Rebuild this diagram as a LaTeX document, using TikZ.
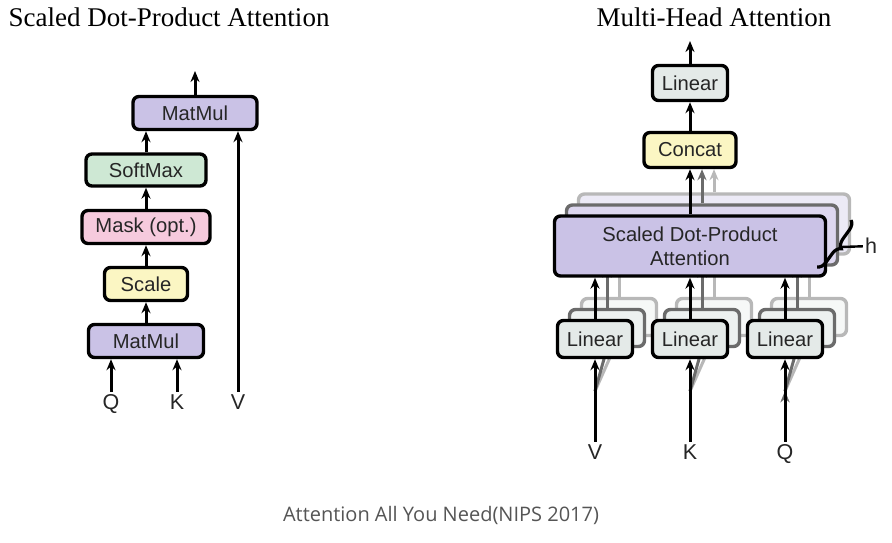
\documentclass[tikz,border=0pt]{standalone}
\usepackage{fontspec}
\setmainfont{Liberation Serif}
\newfontfamily\boxfont{Liberation Sans}
\newfontfamily\capfont{Open Sans}
\usepackage{tikz}
\usetikzlibrary{arrows.meta,positioning,decorations.pathreplacing,backgrounds}

\definecolor{mmpurple}{RGB}{202,194,230}
\definecolor{smgreen}{RGB}{206,232,212}
\definecolor{mkpink}{RGB}{246,202,221}
\definecolor{scyellow}{RGB}{251,246,195}
\definecolor{lngray}{RGB}{228,234,232}
\definecolor{capgray}{RGB}{85,85,85}

\begin{document}
\begin{tikzpicture}[
	x = 1pt, y = -1pt,
	node distance = 57pt,
	on grid,
	> = {Stealth[length=11pt,width=9pt]},
	box/.style = {draw, line width=3.4pt, rounded corners=6pt, minimum height=33pt,
		inner sep=0pt, text=black!85, font=\boxfont\fontsize{20.2}{24}\selectfont},
	mmbox/.style = {box, fill=mmpurple},
	linbox/.style = {box, fill=lngray, minimum width=75pt, minimum height=37pt},
	sdpabox/.style = {box, fill=mmpurple, minimum width=271pt, minimum height=60pt, align=center},
	ghostA/.style = {draw=black!58, fill=#1!65!white},
	ghostB/.style = {draw=black!28, fill=#1!35!white},
	lbl/.style = {inner sep=2pt, text height=15pt, text depth=1pt, text=black!85,
		font=\boxfont\fontsize{21.5}{24}\selectfont},
	title/.style = {font=\fontsize{27}{30}\selectfont},
	wire/.style = {line width=3pt},
	wireA/.style = {line width=3pt, draw=black!58, -{Stealth[length=11pt,width=9pt]}},
	wireB/.style = {line width=3pt, draw=black!28, -{Stealth[length=11pt,width=9pt]}}
	]
	\useasboundingbox (0,0) rectangle (892,542);

	% scaled dot-product attention
	\node[title] (ttl1) at (169,17) {Scaled Dot-Product Attention};
	\node[mmbox, minimum width=115pt] (mm1) at (146,341) {MatMul};
	\node[box, fill=scyellow, minimum width=83pt] (scale) [above=57pt of mm1] {Scale};
	\node[box, fill=mkpink, minimum width=128pt] (mask) [above=of scale] {Mask (opt.)};
	\node[box, fill=smgreen, minimum width=120pt, minimum height=32pt] (soft) [above=of mask] {SoftMax};
	\node[mmbox, minimum width=124pt] (mm2) [above right=57pt and 49pt of soft] {MatMul};
	\node[lbl] (q) at (111,402) {Q};
	\node[lbl] (k) at (177,402) {K};
	\node[lbl] (v0) at (238,402) {V};
	\coordinate (out1) at (195,71);
	\path[->, wire]
	(mm1) edge (scale)
	(scale) edge (mask)
	(mask) edge (soft)
	(soft.north) edge (soft.north |- mm2.south)
	(mm2) edge (out1)
	(q) edge (q |- mm1.south)
	(k) edge (k |- mm1.south)
	(v0) edge (v0 |- mm2.south);

	% multi-head attention
	\node[title] (ttl2) at (714,17) {Multi-Head Attention};
	\node[sdpabox] (sdpa) at (690,246) {Scaled Dot-Product\\Attention};
	\node[box, fill=scyellow, minimum width=92pt, minimum height=35pt] (concat) [above=96pt of sdpa] {Concat};
	\node[linbox, minimum height=35pt] (lintop) [above=67pt of concat] {Linear};
	\node[linbox] (lk) [below=93pt of sdpa] {Linear};
	\node[linbox] (lv) [left=95pt of lk] {Linear};
	\node[linbox] (lq) [right=95pt of lk] {Linear};
	\node[lbl] (v) [below=113pt of lv] {V};
	\node[lbl] (k2) [below=113pt of lk] {K};
	\node[lbl] (q2) [below=113pt of lq] {Q};
	\coordinate (out2) at (690,41);
	\path[->, wire]
	(lintop) edge (out2)
	(concat) edge (lintop)
	(sdpa) edge (concat)
	(lv) edge (lv |- sdpa.south)
	(lk) edge (lk |- sdpa.south)
	(lq) edge (lq |- sdpa.south)
	(v) edge (lv)
	(k2) edge (lk)
	(q2) edge (lq);

	\begin{scope}[on background layer]
	\fill[white] (0,0) rectangle (892,542);
	\node[sdpabox, ghostB=mmpurple] (sdpa2) at ([xshift=24pt,yshift=22pt]sdpa) {};
	\node[linbox, ghostB=lngray] (lv2) at ([xshift=24pt,yshift=22pt]lv) {};
	\node[linbox, ghostB=lngray] (lk2) at ([xshift=24pt,yshift=22pt]lk) {};
	\node[linbox, ghostB=lngray] (lq2) at ([xshift=24pt,yshift=22pt]lq) {};
	\path[wireB]
	(sdpa2.north) edge (sdpa2.north |- concat.south)
	(lv2.north) edge (lv2.north |- sdpa2.south)
	(lk2.north) edge (lk2.north |- sdpa2.south)
	(lq2.north) edge (lq2.north |- sdpa2.south)
	([yshift=-32pt]lv.south) edge (lv2.south)
	([yshift=-32pt]lk.south) edge (lk2.south)
	([yshift=-32pt]lq.south) edge (lq2.south);
	\node[sdpabox, ghostA=mmpurple] (sdpa1) at ([xshift=12pt,yshift=11pt]sdpa) {};
	\node[linbox, ghostA=lngray] (lv1) at ([xshift=12pt,yshift=11pt]lv) {};
	\node[linbox, ghostA=lngray] (lk1) at ([xshift=12pt,yshift=11pt]lk) {};
	\node[linbox, ghostA=lngray] (lq1) at ([xshift=12pt,yshift=11pt]lq) {};
	\path[wireA]
	(sdpa1.north) edge (sdpa1.north |- concat.south)
	(lv1.north) edge (lv1.north |- sdpa1.south)
	(lk1.north) edge (lk1.north |- sdpa1.south)
	(lq1.north) edge (lq1.north |- sdpa1.south)
	([yshift=-32pt]lv.south) edge (lv1.south)
	([yshift=-32pt]lk.south) edge (lk1.south)
	([yshift=-32pt]lq.south) edge (lq1.south);
	\end{scope}

	\coordinate (ht) at (851,220);
	\coordinate (hb) at (817,267);
	\coordinate (htip) at (841,247);
	\node[lbl] (h) at (871,246) {h};
	\draw[line width=3.2pt, decorate, decoration={brace, amplitude=9pt}] (ht) -- (hb);
	\draw[line width=2.4pt] (htip) -- (h);

	\node[text=capgray, font=\capfont\fontsize{20}{24}\selectfont] (cap) at (441,515) {Attention All You Need(NIPS 2017)};
\end{tikzpicture}
\end{document}
